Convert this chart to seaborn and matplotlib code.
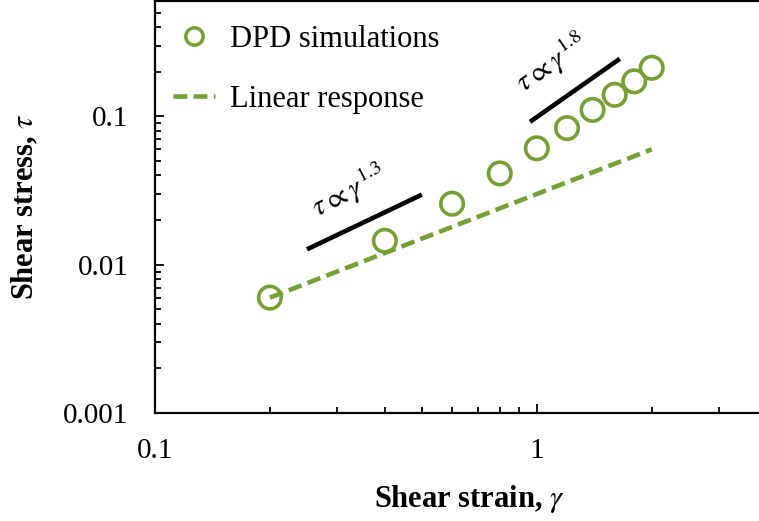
import matplotlib
matplotlib.use("Agg")
import matplotlib.pyplot as plt
from matplotlib.lines import Line2D
from matplotlib.ticker import FixedLocator, FixedFormatter, LogLocator, NullFormatter
import seaborn as sns
import pandas as pd

# Simulated stress-strain data
strain = [0.2, 0.4, 0.6, 0.8, 1.0, 1.2, 1.4, 1.6, 1.8, 2.0]
stress = [0.0060, 0.0145, 0.0258, 0.0413, 0.0610, 0.0835, 0.1107, 0.140, 0.1726, 0.213]

# Linear response reference
linear_strain = [0.2, 2.0]
linear_stress = [0.006, 0.06]

# Power-law guide lines
guide13_x = [0.25, 0.5]
guide13_y = [0.0127, 0.0297]
guide18_x = [0.96, 1.65]
guide18_y = [0.092, 0.245]

xtick_vals = [0.1, 1]
xtick_labels = ["0.1", "1"]
ytick_vals = [0.001, 0.01, 0.1]
ytick_labels = ["0.001", "0.01", "0.1"]

GREEN = "#76A035"
W, H = 759, 521

sns.set_theme(style="white")
plt.rcParams["font.family"] = ["Liberation Serif", "DejaVu Serif"]
plt.rcParams["mathtext.fontset"] = "stix"
plt.rcParams["text.color"] = "black"
plt.rcParams["axes.labelcolor"] = "black"

fig = plt.figure(figsize=(W / 100, H / 100), dpi=100)
ax = fig.add_axes([155 / W, (H - 413) / H, (W - 155) / W, 412 / H])
ax.set_xscale("log")
ax.set_yscale("log")

sim = pd.DataFrame({"strain": strain, "stress": stress})
lin = pd.DataFrame({"strain": linear_strain, "stress": linear_stress})

sns.lineplot(data=lin, x="strain", y="stress", ax=ax, color=GREEN,
             linewidth=3.3, linestyle=(0, (3.0, 1.4)), zorder=2)
sns.scatterplot(data=sim, x="strain", y="stress", ax=ax, marker="o", s=262,
                facecolor="none", edgecolor=GREEN, linewidth=2.6, zorder=3)

ax.plot(guide13_x, guide13_y, color="black", linewidth=3.3, solid_capstyle="butt")
ax.plot(guide18_x, guide18_y, color="black", linewidth=3.3, solid_capstyle="butt")

ax.text(0.322, 0.0312, r"$\tau \propto \gamma^{1.3}$", fontsize=21, rotation=27,
        ha="center", va="center", rotation_mode="anchor", color="black")
ax.text(1.095, 0.228, r"$\tau \propto \gamma^{1.8}$", fontsize=21, rotation=34,
        ha="center", va="center", rotation_mode="anchor", color="black")

ax.set_xlim(0.1, 3.82)
ax.set_ylim(0.001, 0.601)

ax.xaxis.set_major_locator(FixedLocator(xtick_vals))
ax.xaxis.set_major_formatter(FixedFormatter(xtick_labels))
ax.yaxis.set_major_locator(FixedLocator(ytick_vals))
ax.yaxis.set_major_formatter(FixedFormatter(ytick_labels))
ax.xaxis.set_minor_locator(LogLocator(base=10, subs=range(2, 10)))
ax.yaxis.set_minor_locator(LogLocator(base=10, subs=range(2, 10)))
ax.xaxis.set_minor_formatter(NullFormatter())
ax.yaxis.set_minor_formatter(NullFormatter())

ax.tick_params(axis="both", which="major", direction="in", length=6.5, width=1.3,
               color="black", labelsize=21, labelcolor="black")
ax.tick_params(axis="both", which="minor", direction="in", length=4.5, width=1.3,
               color="black")
ax.tick_params(axis="x", which="major", pad=18)
ax.tick_params(axis="y", which="major", pad=19)
ax.tick_params(left=True, bottom=True, which="both")

for side in ["left", "bottom", "top"]:
    ax.spines[side].set_color("black")
    ax.spines[side].set_linewidth(1.6)
ax.spines["right"].set_visible(False)

ax.set_xlabel(r"Shear strain, $\gamma$", fontsize=22, fontweight="bold", color="black")
ax.set_ylabel(r"Shear stress, $\tau$", fontsize=22, fontweight="bold", color="black")
ax.xaxis.set_label_coords((469.5 - 155) / (W - 155), -(483 - 413) / 412)
ax.yaxis.set_label_coords(-(155 - 40) / (W - 155), 0.5)

handles = [
    Line2D([], [], linestyle="none", marker="o", markersize=12.5, markerfacecolor="none",
           markeredgecolor=GREEN, markeredgewidth=2.5),
    Line2D([], [], color=GREEN, linewidth=3.3, linestyle=(0, (3.0, 1.4))),
]
leg = ax.legend(handles, ["DPD simulations", "Linear response"], loc="upper left",
                bbox_to_anchor=(173 / W, 1 - 25 / H), bbox_transform=fig.transFigure,
                frameon=False, fontsize=22, handlelength=1.38, handletextpad=0.5,
                labelspacing=1.0, borderpad=0, borderaxespad=0)
for t in leg.get_texts():
    t.set_color("black")

fig.savefig("out.png", dpi=100)
